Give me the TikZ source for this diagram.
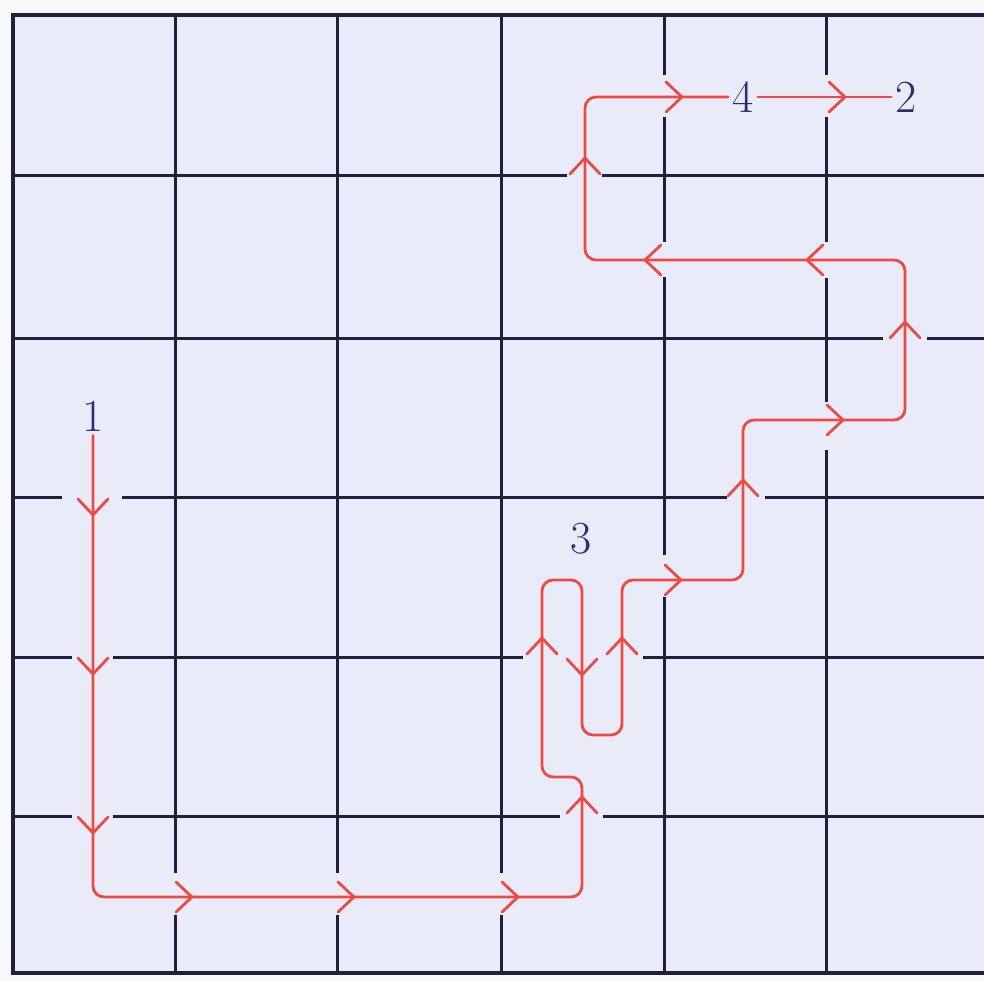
\documentclass[tikz,border=0pt]{standalone}
\definecolor{gridc}{RGB}{30,33,62}
\definecolor{pathc}{RGB}{238,74,68}
\definecolor{labc}{RGB}{42,46,112}
\definecolor{paper}{RGB}{233,235,249}
\definecolor{margin}{RGB}{248,248,251}
\begin{document}
\begin{tikzpicture}[x=1pt,y=-1pt,
  wall/.style={draw=gridc,line width=3pt,line cap=butt},
  border/.style={draw=gridc,line width=4pt,line join=miter},
  route/.style={draw=pathc,line width=2.8pt,rounded corners=11pt,line cap=round,line join=round},
  chev/.style={draw=pathc,line width=2.8pt,line cap=round,line join=miter},
  lab/.style={text=labc,font=\fontsize{46}{46}\selectfont,inner sep=4pt},
  chevR/.pic={\draw[chev] (-16,-15) -- (0,0) -- (-16,15);},
  chevL/.pic={\draw[chev] (16,-15) -- (0,0) -- (16,15);},
  chevD/.pic={\draw[chev] (-15,-16) -- (0,0) -- (15,-16);},
  chevU/.pic={\draw[chev] (-15,16) -- (0,0) -- (15,16);}
]
\useasboundingbox (0,0) rectangle (984,981);
\fill[margin] (0,0) rectangle (984,981);
\fill[paper] (13,15) rectangle (984,973);

% vertical walls
\draw[wall] (175,15) -- (175,873) (175,915) -- (175,973);
\draw[wall] (337,15) -- (337,873) (337,915) -- (337,973);
\draw[wall] (501,15) -- (501,873) (501,915) -- (501,973);
\draw[wall] (664,15) -- (664,75) (664,117) -- (664,242) (664,277) -- (664,555) (664,597) -- (664,973);
\draw[wall] (826,15) -- (826,75) (826,117) -- (826,242) (826,278) -- (826,402) (826,450) -- (826,973);
% horizontal walls
\draw[wall] (13,176) -- (567,176) (602,176) -- (984,176);
\draw[wall] (13,338) -- (883,338) (927,338) -- (984,338);
\draw[wall] (13,497) -- (62,497) (122,497) -- (727,497) (765,497) -- (984,497);
\draw[wall] (13,657) -- (72,657) (113,657) -- (523,657) (643,657) -- (984,657);
\draw[wall] (13,816) -- (72,816) (113,816) -- (560,816) (603,816) -- (984,816);
% outer border
\draw[border] (984,15) -- (13,15) -- (13,973) -- (984,973);

% labels
\node[lab] (n1) at (93,416) {1};
\node[lab] (n3) at (581,539) {3};
\node[lab] (n4) at (743,97) {4};
\node[lab] (n2) at (906,97) {2};

% route
\draw[route] (n1.south) -- (93,897) -- (582,897) -- (582,777) -- (542,777)
  -- (542,580) -- (582,580) -- (582,735) -- (622,735) -- (622,580)
  -- (743,580) -- (743,420) -- (905,420) -- (905,260) -- (585,260)
  -- (585,97) -- (n4.west);
\draw[route] (n4.east) -- (n2.west);

% chevrons
\pic at (93,515) {chevD};
\pic at (93,674) {chevD};
\pic at (93,833) {chevD};
\pic at (192,897) {chevR};
\pic at (354,897) {chevR};
\pic at (518,897) {chevR};
\pic at (582,797) {chevU};
\pic at (542,638) {chevU};
\pic at (582,675) {chevD};
\pic at (622,638) {chevU};
\pic at (681,580) {chevR};
\pic at (743,480) {chevU};
\pic at (843,420) {chevR};
\pic at (905,322) {chevU};
\pic at (807,260) {chevL};
\pic at (645,260) {chevL};
\pic at (585,158) {chevU};
\pic at (682,97) {chevR};
\pic at (845,97) {chevR};
\end{tikzpicture}
\end{document}
